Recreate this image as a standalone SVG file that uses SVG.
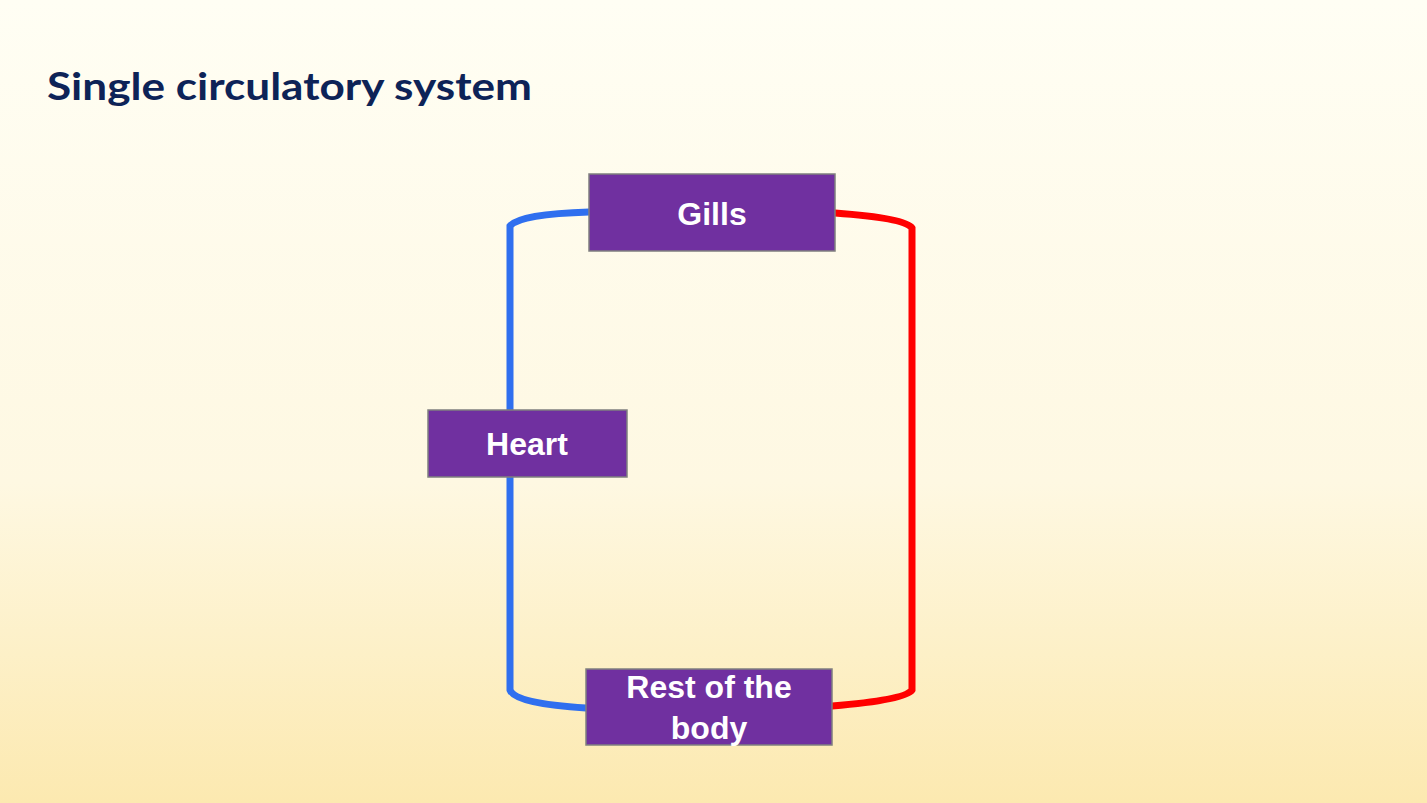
<svg xmlns="http://www.w3.org/2000/svg" width="1427" height="803" viewBox="0 0 1427 803">
<defs>
<linearGradient id="bg" x1="0" y1="0" x2="0" y2="1">
<stop offset="0" stop-color="#FFFEF4"/><stop offset="0.6" stop-color="#FEF8E2"/><stop offset="1" stop-color="#FCE9B0"/>
</linearGradient>
<style>
.box{fill:#7030A0;stroke:#7F7F7F;stroke-width:1.5}
.lbl{font-family:"Liberation Sans",Arial,sans-serif;font-weight:bold;font-size:32px;fill:#fff;text-anchor:middle}
.line{fill:none;stroke-width:7;stroke-linecap:round}
</style>
</defs>
<rect width="1427" height="803" fill="url(#bg)"/>
<text x="47" y="100" font-family="Lato,'Open Sans',sans-serif" font-weight="bold" font-size="38" fill="#0D2357" textLength="485" lengthAdjust="spacingAndGlyphs">Single circulatory system</text>
<g id="connectors">
<path class="line" stroke="#2F6FEF" d="M589,212 Q520,214 510,226 L510,690 Q515,704 586,708"/>
<path class="line" stroke="#FF0000" d="M835,213 Q905,218 912,228 L912,690 Q905,700 832,706"/>
</g>
<g id="gills"><rect class="box" x="589" y="174" width="246" height="77"/><text class="lbl" x="712" y="225">Gills</text></g>
<g id="heart"><rect class="box" x="428" y="410" width="199" height="67"/><text class="lbl" x="527" y="455">Heart</text></g>
<g id="body"><rect class="box" x="586" y="669" width="246" height="76"/><text class="lbl" x="709" y="698">Rest of the</text><text class="lbl" x="709" y="739">body</text></g>
</svg>
